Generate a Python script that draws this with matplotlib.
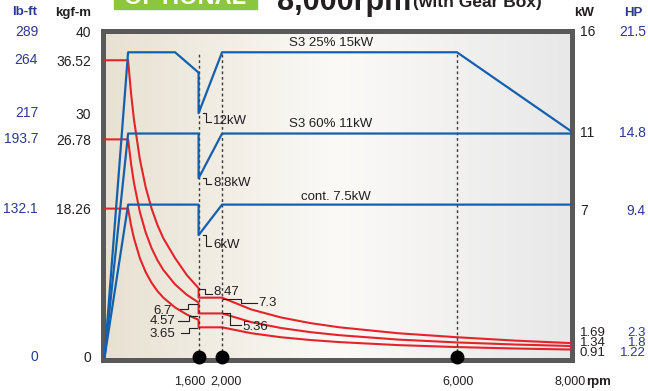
import numpy as np
import matplotlib
matplotlib.use("Agg")
import matplotlib.pyplot as plt
from matplotlib.colors import LinearSegmentedColormap
from matplotlib.lines import Line2D
from matplotlib.patches import Rectangle
from matplotlib.transforms import IdentityTransform

plt.rcParams['font.family'] = ['Liberation Sans', 'DejaVu Sans']

# power curves (kW) vs rpm
rpm_s3_25 = [0, 400, 1200, 1600, 1600, 2000, 6000, 8000]
kw_s3_25 = [0, 15, 15, 14, 12, 15, 15, 11]
rpm_s3_60 = [0, 400, 1600, 1600, 2000, 8000]
kw_s3_60 = [0, 11, 11, 8.8, 11, 11]
rpm_cont = [0, 400, 1600, 1600, 2000, 8000]
kw_cont = [0, 7.5, 7.5, 6, 7.5, 7.5]

# torque curves (kgf-m) vs rpm
rpm_torque = [0, 400, 450, 500, 600, 700, 800, 900, 1000, 1200, 1400, 1600,
              1600, 2000, 2500, 3000, 3500, 4000, 5000, 6000, 7000, 8000]
tq_s3_25 = [36.52, 36.52, 32.45, 29.21, 24.34, 20.87, 18.26, 16.23, 14.61, 12.17, 10.08, 8.47,
            7.3, 7.3, 5.84, 4.87, 4.17, 3.65, 2.92, 2.43, 2.01, 1.69]
tq_s3_60 = [26.78, 26.78, 23.80, 21.42, 17.85, 15.30, 13.39, 11.90, 10.71, 8.93, 7.65, 6.70,
            5.36, 5.36, 4.28, 3.57, 3.06, 2.68, 2.14, 1.79, 1.53, 1.34]
tq_cont = [18.26, 18.26, 16.23, 14.61, 12.17, 10.43, 9.13, 8.11, 7.30, 6.09, 5.22, 4.57,
           3.65, 3.65, 2.92, 2.43, 2.09, 1.83, 1.46, 1.22, 1.04, 0.91]

gear_rpms = [1600, 2000, 6000]

kgf_ticks = [0, 18.26, 26.78, 30, 36.52, 40]
kgf_labels = ['0', '18.26', '26.78', '30', '36.52', '40']
lbft_labels = ['0', '132.1', '193.7', '217', '264', '289']
kw_labels = ['16', '11', '7']
hp_labels = ['21.5', '14.8', '9.4']
right_label_pos = [40, 27.6, 18.0]
end_kgf_labels = ['1.69', '1.34', '0.91']
end_hp_labels = ['2.3', '1.8', '1.22']
end_label_pos = [2.89, 1.66, 0.43]

RED = '#e3242b'
BLUE = '#1560ad'
NAVY = '#2b3990'
INK = '#231f20'
FRAME = '#595959'

W, H = 648, 391
fig = plt.figure(figsize=(W / 100, H / 100), dpi=100)


def fx(x):
    return x / W


def fy(y):
    return 1 - y / H


ax = fig.add_axes([fx(102.5), fy(359.5), (571.5 - 102.5) / W, (359.5 - 30.5) / H])
xlim = (-36, 7950)
ylim = (-0.31, 40.18)

cmap = LinearSegmentedColormap.from_list('bg', ['#e8e1d2', '#fbfaf7', '#e8e8e9'])
ax.imshow(np.linspace(0, 1, 256).reshape(1, -1), cmap=cmap, aspect='auto',
          extent=(xlim[0], xlim[1], ylim[0], ylim[1]), zorder=0, interpolation='bicubic')
ax.set_xlim(xlim)
ax.set_ylim(ylim)

for tq in (tq_s3_25, tq_s3_60, tq_cont):
    ax.plot(rpm_torque, tq, color=RED, lw=1.5, zorder=3)

ax2 = ax.twinx()
ax2.set_ylim(ylim[0] / 2.5, ylim[1] / 2.5)
ax2.vlines(gear_rpms, 0, 15, colors='#3a3a3a', lw=1, linestyles=(0, (2, 2)), zorder=2)
for r, p in ((rpm_s3_25, kw_s3_25), (rpm_s3_60, kw_s3_60), (rpm_cont, kw_cont)):
    ax2.plot(r, p, color=BLUE, lw=1.6, zorder=4)
ax2.plot(gear_rpms, [0] * len(gear_rpms), 'o', color='black', ms=9, clip_on=False, zorder=6)

for a in (ax, ax2):
    for s in a.spines.values():
        s.set_visible(a is ax)
        s.set_linewidth(3.6)
        s.set_color(FRAME)
ax.set_xticks([])
ax2.set_yticks([])
ax.set_yticks(kgf_ticks, kgf_labels)
ax.tick_params(axis='y', length=0, pad=8.3, labelsize=10, labelcolor=INK)

ytr = ax.get_yaxis_transform()
for v, t in zip(kgf_ticks, lbft_labels):
    ax.text(-0.1375, v, t, transform=ytr, ha='right', va='center', fontsize=10, color=NAVY)
for v, k, h in zip(right_label_pos, kw_labels, hp_labels):
    ax.text(1.0181, v, k, transform=ytr, ha='left', va='center', fontsize=10, color=INK)
    ax.text(1.1588, v, h, transform=ytr, ha='right', va='center', fontsize=10, color=NAVY)
for v, k, h in zip(end_label_pos, end_kgf_labels, end_hp_labels):
    ax.text(1.0181, v, k, transform=ytr, ha='left', va='center', fontsize=9.5, color=INK)
    ax.text(1.1588, v, h, transform=ytr, ha='right', va='center', fontsize=9.5, color=NAVY)

# headers
fig.text(fx(25), fy(12), 'lb-ft', ha='center', va='center', fontsize=9.5, weight='bold', color=NAVY)
fig.text(fx(73), fy(13), 'kgf-m', ha='center', va='center', fontsize=9.5, weight='bold', color=INK)
fig.text(fx(584.5), fy(13), 'kW', ha='center', va='center', fontsize=9.5, weight='bold', color=INK)
fig.text(fx(633.5), fy(13), 'HP', ha='center', va='center', fontsize=9.5, weight='bold', color=NAVY)

fig.add_artist(Rectangle((fx(114), fy(8.5)), (257 - 114) / W, 20 / H,
                         transform=fig.transFigure, color='#8cc63e', zorder=1))
fig.text(fx(185.5), fy(4.5), 'OPTIONAL', ha='center', va='baseline', fontsize=17,
         weight='bold', color='white', zorder=2)
fig.text(fx(277), fy(10), '8,000rpm', ha='left', va='baseline', fontsize=22,
         weight='bold', color=INK)
fig.text(fx(413), fy(7.5), '(with Gear Box)', ha='left', va='baseline', fontsize=12.5,
         weight='bold', color=INK)

# bottom rpm labels
xtr = ax.get_xaxis_transform()
for r, t, dx in ((1600, '1,600', -9), (2000, '2,000', 4), (6000, '6,000', 1)):
    ax.annotate(t, xy=(r, 0), xycoords=xtr, xytext=(dx, -21.5), textcoords='offset pixels',
                ha='center', va='center', fontsize=9, color=INK, annotation_clip=False)
ax.annotate('8,000', xy=(8000, 0), xycoords=xtr, xytext=(11.6, -21.5), textcoords='offset pixels',
            ha='right', va='center', fontsize=9, color=INK, annotation_clip=False)
ax.annotate('rpm', xy=(8000, 0), xycoords=xtr, xytext=(11.6, -22), textcoords='offset pixels',
            ha='left', va='center', fontsize=9.5, weight='bold', color=INK, annotation_clip=False)

# curve names
ax2.text(3855, 15.46, 'S3 25% 15kW', ha='center', va='center', fontsize=9.5, color=INK)
ax2.text(3855, 11.47, 'S3 60% 11kW', ha='center', va='center', fontsize=9.5, color=INK)
ax2.text(3940, 7.88, 'cont. 7.5kW', ha='center', va='center', fontsize=9.5, color=INK)


def leader(axis, x, y, steps):
    px, py = axis.transData.transform((x, y))
    xs = [px + dx for dx, dy in steps]
    ys = [py - dy for dx, dy in steps]
    fig.add_artist(Line2D(xs, ys, transform=IdentityTransform(), color=INK, lw=0.8))


# kW drop labels at the gear change
for kw, d in ((12, 8), (8.8, 4.5), (6, 10)):
    leader(ax2, 1600, kw, [(4.5, 0), (7.4, 0), (7.4, d + 1), (12, d + 1)])
    ax2.annotate(f'{kw:g}kW', xy=(1600, kw), xytext=(14.4, -d), textcoords='offset pixels',
                 ha='left', va='center', fontsize=9.5, color=INK)

# torque labels
torque_labels = [
    (1600, 8.47, '8.47', 'left', (14.4, -3.5), [(0.5, 1), (6.5, 1), (6.5, 6), (13, 6)]),
    (2000, 7.3, '7.3', 'left', (36, -5.5), [(1, 1.5), (19, 1.5), (19, 5), (35, 5)]),
    (1600, 6.7, '6.7', 'right', (-26.6, -8.4), [(-18.6, 6.7), (-11, 6.7), (-11, 1.4), (-2, 1.4)]),
    (1600, 4.57, '4.57', 'right', (-23.6, -0.8), [(-21, 0.8), (-10, 0.8), (-10, -4), (-2, -4)]),
    (1600, 3.65, '3.65', 'right', (-23.6, -6.7), [(-17.6, 5.4), (-9.6, 5.4), (-9.6, 0.4), (-2, 0.4)]),
    (2000, 5.36, '5.36', 'left', (20, -13.5), [(1, 0), (8, 0), (8, 11.5), (19, 11.5)]),
]
for r, v, t, ha, off, steps in torque_labels:
    leader(ax, r, v, steps)
    ax.annotate(t, xy=(r, v), xytext=off, textcoords='offset pixels', ha=ha, va='center',
                fontsize=9.5, color=INK)

fig.savefig('out.png', dpi=100)
